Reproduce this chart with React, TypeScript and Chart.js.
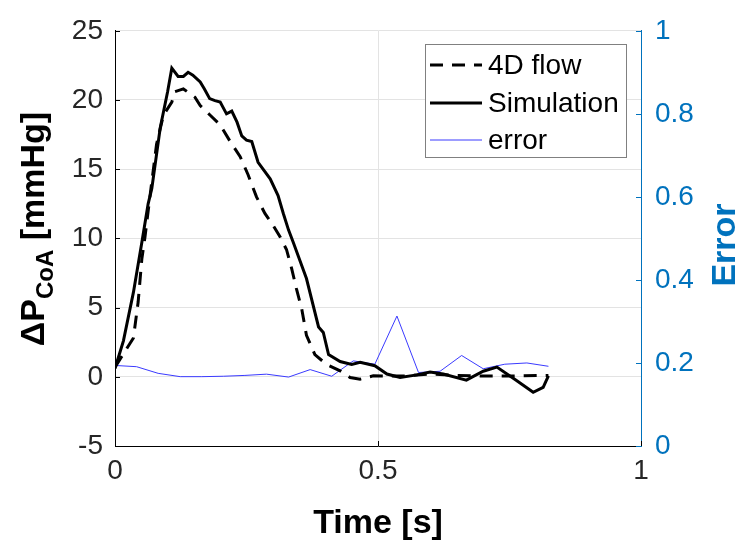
import { useEffect, useRef } from "react";
import { Chart, registerables } from "chart.js";

Chart.register(...registerables);

const FONT = '"Liberation Sans", Arial, Helvetica, sans-serif';

// Simulation (solid)
const simTime = [0, 0.016, 0.035, 0.051, 0.063, 0.07, 0.086, 0.1, 0.108, 0.12, 0.13, 0.139, 0.148, 0.162, 0.17, 0.18, 0.19, 0.2, 0.212, 0.222, 0.232, 0.241, 0.25, 0.26, 0.272, 0.295, 0.31, 0.32, 0.33, 0.339, 0.364, 0.387, 0.396, 0.406, 0.428, 0.45, 0.466, 0.494, 0.517, 0.542, 0.574, 0.599, 0.624, 0.668, 0.7, 0.726, 0.764, 0.795, 0.814, 0.824];
const simPressure = [0.6, 2.6, 6.1, 9.7, 12.5, 13.6, 18.0, 20.6, 22.3, 21.7, 21.7, 22.0, 21.8, 21.3, 20.8, 20.1, 19.95, 19.85, 19.0, 19.2, 18.4, 17.4, 17.1, 17.0, 15.5, 14.3, 13.1, 11.8, 10.6, 9.7, 7.1, 3.6, 3.2, 1.6, 1.1, 0.9, 1.05, 0.8, 0.2, -0.05, 0.14, 0.35, 0.2, -0.24, 0.4, 0.7, -0.28, -1.12, -0.76, 0.07];

// 4D flow (dashed)
const flowTime = [0, 0.035, 0.044, 0.051, 0.057, 0.067, 0.079, 0.092, 0.108, 0.114, 0.13, 0.152, 0.162, 0.181, 0.2, 0.219, 0.238, 0.253, 0.269, 0.285, 0.298, 0.314, 0.326, 0.336, 0.345, 0.355, 0.364, 0.38, 0.402, 0.428, 0.447, 0.466, 0.491, 0.55, 0.6, 0.65, 0.7, 0.75, 0.824];
const flowPressure = [0.7, 2.8, 5.4, 8.5, 10.1, 13.2, 16.8, 18.9, 19.85, 20.6, 20.8, 20.2, 19.6, 18.9, 18.2, 17.0, 15.9, 14.6, 13.0, 11.8, 11.1, 10.1, 9.2, 7.8, 6.35, 4.9, 3.0, 1.6, 0.9, 0.43, -0.05, -0.17, 0.07, 0.05, 0.2, 0.1, 0.05, 0.05, 0.1];

// error (right axis)
const errTime = [0, 0.041, 0.082, 0.124, 0.165, 0.206, 0.247, 0.288, 0.33, 0.371, 0.412, 0.453, 0.494, 0.536, 0.577, 0.618, 0.659, 0.7, 0.741, 0.783, 0.824];
const errValues = [0.194, 0.191, 0.175, 0.167, 0.167, 0.168, 0.17, 0.173, 0.166, 0.184, 0.168, 0.205, 0.197, 0.313, 0.177, 0.18, 0.218, 0.186, 0.197, 0.2, 0.192];

const xTicks = [0, 0.5, 1];
const leftTicks = [-5, 0, 5, 10, 15, 20, 25];
const rightTicks = [0, 0.2, 0.4, 0.6, 0.8, 1];

const seriesLabels = ["4D flow", "Simulation", "error"];
const xTitle = "Time [s]";
const yTitleMain = "\u0394P";
const yTitleSub = "CoA";
const yTitleUnit = " [mmHg]";
const y1Title = "Error";

const BLUE_AXIS = "#0072BD";
const BLUE_LINE = "#3a3aff";
const GRID = "#e3e3e3";
const DASH = [13, 9];

const toXY = (xs: number[], ys: number[]) => xs.map((x, i) => ({ x, y: ys[i] }));

const decorPlugin = {
  id: "decor",
  afterDraw(chart: any) {
    const ctx: CanvasRenderingContext2D = chart.ctx;
    const { left, right, top, bottom } = chart.chartArea;
    const xs = chart.scales.x;
    const ys = chart.scales.y;
    const y1 = chart.scales.y1;
    ctx.save();
    // inward ticks
    ctx.lineWidth = 1;
    ctx.strokeStyle = "#000";
    leftTicks.forEach((v) => {
      const py = Math.round(ys.getPixelForValue(v)) + 0.5;
      ctx.beginPath();
      ctx.moveTo(left, py);
      ctx.lineTo(left + 5, py);
      ctx.stroke();
    });
    xTicks.forEach((v) => {
      const px = Math.round(xs.getPixelForValue(v)) + 0.5;
      ctx.beginPath();
      ctx.moveTo(px, bottom);
      ctx.lineTo(px, bottom - 5);
      ctx.stroke();
    });
    ctx.strokeStyle = BLUE_AXIS;
    rightTicks.forEach((v) => {
      const py = Math.round(y1.getPixelForValue(v)) + 0.5;
      ctx.beginPath();
      ctx.moveTo(right, py);
      ctx.lineTo(right - 5, py);
      ctx.stroke();
    });

    // x title
    ctx.fillStyle = "#000";
    ctx.font = `bold 34px ${FONT}`;
    ctx.textAlign = "center";
    ctx.textBaseline = "alphabetic";
    ctx.fillText(xTitle, (left + right) / 2, 533);

    // left title with subscript
    ctx.save();
    ctx.translate(44, 229);
    ctx.rotate(-Math.PI / 2);
    ctx.textAlign = "left";
    ctx.font = `bold 34px ${FONT}`;
    const w1 = ctx.measureText(yTitleMain).width;
    const w3 = ctx.measureText(yTitleUnit).width;
    ctx.font = `bold 24px ${FONT}`;
    const w2 = ctx.measureText(yTitleSub).width;
    const start = -(w1 + w2 + w3) / 2;
    ctx.font = `bold 34px ${FONT}`;
    ctx.fillText(yTitleMain, start, 0);
    ctx.font = `bold 24px ${FONT}`;
    ctx.fillText(yTitleSub, start + w1, 9);
    ctx.font = `bold 34px ${FONT}`;
    ctx.fillText(yTitleUnit, start + w1 + w2, 0);
    ctx.restore();

    // right title
    ctx.save();
    ctx.translate(735, 245);
    ctx.rotate(-Math.PI / 2);
    ctx.textAlign = "center";
    ctx.fillStyle = BLUE_AXIS;
    ctx.font = `bold 34px ${FONT}`;
    ctx.fillText(y1Title, 0, 0);
    ctx.restore();

    // legend
    const bx = 425.5, by = 44.5, bw = 201, bh = 113;
    ctx.fillStyle = "#fff";
    ctx.fillRect(bx, by, bw, bh);
    ctx.strokeStyle = "#808080";
    ctx.lineWidth = 1;
    ctx.strokeRect(bx, by, bw, bh);
    const rows = [65, 103, 140];
    chart.data.datasets.forEach((ds: any, i: number) => {
      const yy = rows[i];
      ctx.beginPath();
      ctx.strokeStyle = ds.borderColor;
      ctx.lineWidth = ds.borderWidth;
      ctx.setLineDash(ds.borderDash || []);
      ctx.moveTo(430, yy);
      ctx.lineTo(482, yy);
      ctx.stroke();
      ctx.setLineDash([]);
      ctx.fillStyle = "#000";
      ctx.font = `28px ${FONT}`;
      ctx.textAlign = "left";
      ctx.textBaseline = "middle";
      ctx.fillText(ds.label, 488, yy + 1);
    });
    ctx.restore();
  },
};

export default function App() {
  const ref = useRef<HTMLCanvasElement | null>(null);
  useEffect(() => {
    if (!ref.current) return;
    const chart = new Chart(ref.current, {
      type: "line",
      data: {
        datasets: [
          {
            label: seriesLabels[0],
            data: toXY(flowTime, flowPressure),
            borderColor: "#000",
            borderWidth: 3,
            borderDash: DASH,
            pointRadius: 0,
            yAxisID: "y",
            order: 1,
            tension: 0,
          },
          {
            label: seriesLabels[1],
            data: toXY(simTime, simPressure),
            borderColor: "#000",
            borderWidth: 3,
            pointRadius: 0,
            yAxisID: "y",
            order: 2,
            tension: 0,
          },
          {
            label: seriesLabels[2],
            data: toXY(errTime, errValues),
            borderColor: BLUE_LINE,
            borderWidth: 1,
            pointRadius: 0,
            yAxisID: "y1",
            order: 3,
            tension: 0,
          },
        ],
      },
      options: {
        animation: false,
        responsive: true,
        maintainAspectRatio: false,
        layout: { padding: { top: 24, left: 0, right: 0, bottom: 0 } },
        plugins: { legend: { display: false }, tooltip: { enabled: false } },
        scales: {
          x: {
            type: "linear",
            min: 0,
            max: 1,
            afterBuildTicks: (s: any) => { s.ticks = xTicks.map((v) => ({ value: v })); },
            afterFit: (s: any) => { s.height = 94; },
            grid: { color: GRID, drawTicks: false },
            border: { color: "#000", width: 1 },
            ticks: { color: "#262626", font: { size: 28, family: FONT }, padding: 8, maxRotation: 0, callback: (v: any) => String(v) },
          },
          y: {
            type: "linear",
            position: "left",
            min: -5,
            max: 25,
            afterBuildTicks: (s: any) => { s.ticks = leftTicks.map((v) => ({ value: v })); },
            afterFit: (s: any) => { s.width = 115; },
            grid: { color: GRID, drawTicks: false },
            border: { color: "#000", width: 1 },
            ticks: { color: "#262626", font: { size: 28, family: FONT }, padding: 12, callback: (v: any) => String(v) },
          },
          y1: {
            type: "linear",
            position: "right",
            min: 0,
            max: 1,
            afterBuildTicks: (s: any) => { s.ticks = rightTicks.map((v) => ({ value: v })); },
            afterFit: (s: any) => { s.width = 104; },
            grid: { display: false, drawTicks: false },
            border: { color: BLUE_AXIS, width: 1 },
            ticks: { color: BLUE_AXIS, font: { size: 28, family: FONT }, padding: 14, callback: (v: any) => String(v) },
          },
        },
      },
      plugins: [decorPlugin],
    });
    return () => chart.destroy();
  }, []);
  return (
    <div style={{ position: "fixed", left: 0, top: 0, width: 745, height: 540, background: "#fff" }}>
      <canvas ref={ref} />
    </div>
  );
}
